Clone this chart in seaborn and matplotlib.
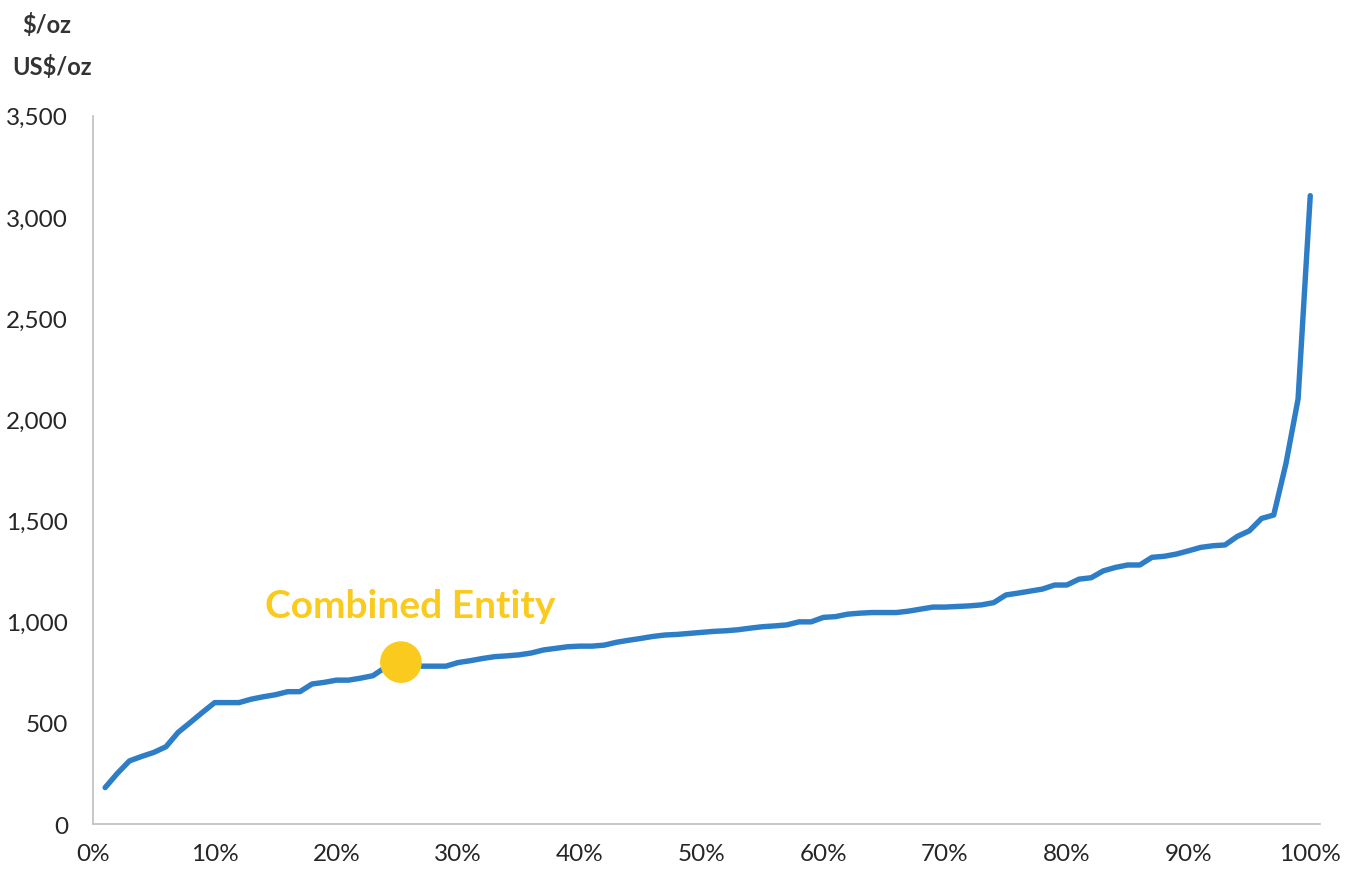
import matplotlib
matplotlib.use("Agg")
import matplotlib.pyplot as plt
from matplotlib.ticker import FuncFormatter
import pandas as pd
import seaborn as sns

# Cumulative production share (%) and all-in sustaining cost (US$/oz)
share_pct = list(range(1, 101))
cost_usd_oz = [
    180, 250, 312, 334, 354, 382, 453, 502, 552, 600,
    600, 600, 617, 629, 639, 654, 654, 692, 700, 711,
    711, 721, 733, 773, 790, 782, 780, 780, 780, 798,
    807, 818, 827, 831, 836, 845, 860, 868, 876, 879,
    879, 884, 898, 908, 917, 927, 934, 937, 942, 947,
    952, 955, 960, 968, 975, 979, 984, 999, 999, 1021,
    1025, 1037, 1042, 1045, 1045, 1045, 1052, 1062, 1072, 1072,
    1075, 1078, 1083, 1094, 1132, 1141, 1151, 1161, 1181, 1181,
    1210, 1217, 1251, 1268, 1280, 1280, 1318, 1323, 1334, 1350,
    1367, 1375, 1379, 1421, 1449, 1510, 1527, 1780, 2100, 3105,
]

# Highlighted company position
entity_label = "Combined Entity"
entity_share = 25.3
entity_cost = 800

y_ticks = [0, 500, 1000, 1500, 2000, 2500, 3000, 3500]
x_ticks = list(range(0, 101, 10))

df = pd.DataFrame({"share": share_pct, "cost": cost_usd_oz})

sns.set_theme(style="white")
plt.rcParams["font.family"] = ["Lato", "DejaVu Sans"]

text_color = "#262626"
axis_color = "#BFBFBF"
line_color = "#2E7EC7"
gold = "#FACB1E"

fig = plt.figure(figsize=(13.53, 8.79), dpi=100)
ax = fig.add_axes([0.0687, 0.0614, 0.9069, 0.8058])

sns.lineplot(data=df, x="share", y="cost", ax=ax, color=line_color,
             linewidth=3.9, solid_capstyle="round", solid_joinstyle="round")

ax.scatter([entity_share], [entity_cost], s=900, color=gold, zorder=5,
           edgecolors="none")
ax.text(entity_share + 0.8, entity_cost + 282, entity_label, color=gold,
        fontsize=28, fontweight="bold", ha="center", va="center")

ax.set_xlim(0, 100.8)
ax.set_ylim(0, 3500)
ax.set_xticks(x_ticks)
ax.set_yticks(y_ticks)
ax.xaxis.set_major_formatter(FuncFormatter(lambda v, p: f"{int(v)}%"))
ax.yaxis.set_major_formatter(FuncFormatter(lambda v, p: f"{int(v):,}"))
ax.set_xlabel("")
ax.set_ylabel("")

for side in ["top", "right"]:
    ax.spines[side].set_visible(False)
for side in ["left", "bottom"]:
    ax.spines[side].set_color(axis_color)
    ax.spines[side].set_linewidth(1.2)

ax.tick_params(axis="both", which="major", direction="out", length=6,
               width=1.2, color=axis_color, labelsize=17.5,
               labelcolor=text_color)
ax.tick_params(axis="y", pad=12)
ax.tick_params(axis="x", pad=8)
ax.grid(False)

fig.text(47 / 1353, 1 - 25 / 879, "$/oz", fontsize=17, fontweight="bold",
         color="#333333", ha="center", va="center")
fig.text(52 / 1353, 1 - 67 / 879, "US$/oz", fontsize=17, fontweight="bold",
         color="#333333", ha="center", va="center")

fig.savefig("out.png", dpi=100, facecolor="white")
